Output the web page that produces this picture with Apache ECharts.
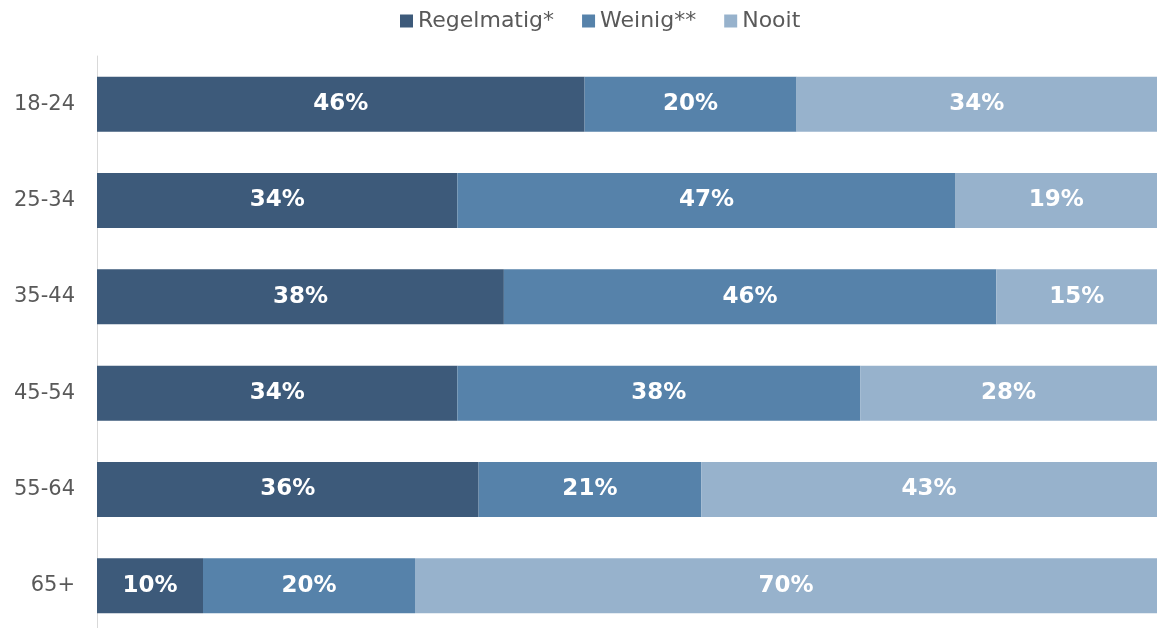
<!DOCTYPE html>
<html>
<head>
<meta charset="utf-8">
<script src="https://cdn.jsdelivr.net/npm/echarts@6/dist/echarts.min.js"></script>
<style>
  html, body { margin: 0; padding: 0; background: #ffffff; overflow: hidden; }
  /* the last row's band runs slightly past the bottom edge of the window */
  #chart { width: 1157px; height: 634px; }
</style>
</head>
<body>
<div id="chart"></div>
<script>
// Age groups, top to bottom
const categories = ['18-24', '25-34', '35-44', '45-54', '55-64', '65+'];

// Share per age group (%)
const regelmatig = [46, 34, 38, 34, 36, 10];
const weinig     = [20, 47, 46, 38, 21, 20];
const nooit      = [34, 19, 15, 28, 43, 70];

const seriesNames = ['Regelmatig*', 'Weinig**', 'Nooit'];
const colors = ['#3d5a7a', '#5682aa', '#97b2cc'];

const rows = [regelmatig, weinig, nooit];
// Each bar is scaled to its row total so every bar fills 100%
const totals = categories.map((_, i) => rows.reduce((s, r) => s + r[i], 0));

const series = rows.map((vals, k) => ({
  name: seriesNames[k],
  type: 'bar',
  stack: 'total',
  barWidth: 55,
  itemStyle: { color: colors[k] },
  label: {
    show: true,
    position: 'inside',
    color: '#ffffff',
    fontFamily: 'DejaVu Sans',
    fontWeight: 'bold',
    fontSize: 23,
    formatter: p => vals[p.dataIndex] + '%'
  },
  data: vals.map((v, i) => v / totals[i] * 100)
}));

const chart = echarts.init(document.getElementById('chart'), null, { renderer: 'canvas' });
chart.setOption({
  animation: false,
  backgroundColor: '#ffffff',
  textStyle: { fontFamily: 'DejaVu Sans' },
  legend: {
    top: 5,
    left: 395,
    itemWidth: 13,
    itemHeight: 13,
    itemGap: 28,
    icon: 'rect',
    textStyle: { color: '#595959', fontSize: 22, fontFamily: 'DejaVu Sans' },
    data: seriesNames
  },
  grid: { left: 97, right: 0, top: 56, bottom: 0, containLabel: false },
  xAxis: {
    type: 'value',
    min: 0,
    max: 100,
    show: false
  },
  yAxis: {
    type: 'category',
    inverse: true,
    data: categories,
    axisLine: { show: true, lineStyle: { color: '#d9d9d9', width: 1 } },
    axisTick: { show: false },
    axisLabel: { color: '#595959', fontSize: 21, fontFamily: 'DejaVu Sans', margin: 22 }
  },
  series: series
});
</script>
</body>
</html>
